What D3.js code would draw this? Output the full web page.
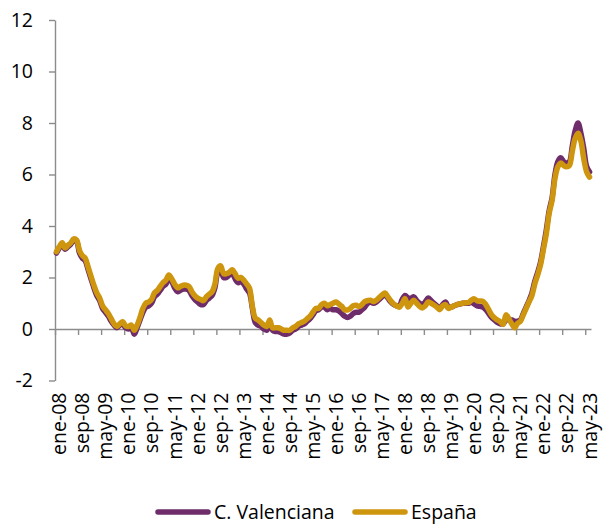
<!DOCTYPE html>
<html><head><meta charset="utf-8">
<script src="https://cdn.jsdelivr.net/npm/d3@7/dist/d3.min.js"></script>
<style>
body{margin:0;background:#fff}
text{font-family:"Open Sans",sans-serif;fill:#000}
</style>
</head><body>
<svg id="c" width="605" height="524"></svg>
<script>
const meses = ["ene","feb","mar","abr","may","jun","jul","ago","sep","oct","nov","dic"];
const categorias = d3.range(186).map(i => meses[i % 12] + "-" + String(8 + Math.floor(i / 12)).padStart(2, "0"));
const etiquetasX = ["ene-08","sep-08","may-09","ene-10","sep-10","may-11","ene-12","sep-12","may-13","ene-14","sep-14","may-15","ene-16","sep-16","may-17","ene-18","sep-18","may-19","ene-20","sep-20","may-21","ene-22","sep-22","may-23"];
const valoresY = [-2,0,2,4,6,8,10,12];

const cValenciana = [
 2.95,3.15,3.3,3.1,3.2,3.3,3.45,3.4,2.95,2.75,2.65,2.3,
 1.95,1.6,1.3,1.1,0.8,0.65,0.5,0.3,0.15,0.05,0.15,0.2,
 0.05,0.0,0.05,-0.2,0.05,0.35,0.65,0.85,0.9,1.0,1.25,1.35,
 1.5,1.65,1.75,1.95,1.85,1.6,1.45,1.5,1.55,1.55,1.5,1.3,
 1.15,1.05,0.95,0.95,1.1,1.2,1.3,1.6,2.2,2.3,2.0,2.0,
 2.1,2.15,1.95,1.8,1.85,1.75,1.55,1.4,0.8,0.25,0.15,0.1,
 0.0,-0.05,0.2,-0.05,-0.1,-0.1,-0.15,-0.2,-0.2,-0.15,-0.05,0.0,
 0.1,0.15,0.2,0.3,0.4,0.55,0.7,0.75,0.85,0.85,0.75,0.8,
 0.75,0.75,0.7,0.6,0.5,0.45,0.5,0.6,0.65,0.65,0.75,0.85,
 1.0,1.05,1.0,1.05,1.15,1.25,1.35,1.2,1.05,0.95,0.9,0.9,
 1.15,1.3,1.2,1.2,1.25,1.1,1.0,0.95,1.05,1.2,1.1,1.0,
 0.9,0.8,0.95,1.05,0.85,0.85,0.9,0.95,0.97,1.0,1.0,1.0,
 1.05,0.97,0.9,0.88,0.85,0.75,0.6,0.45,0.35,0.25,0.2,0.2,
 0.35,0.35,0.35,0.3,0.3,0.35,0.6,0.85,1.1,1.4,1.85,2.2,
 2.6,3.2,3.85,4.6,5.1,6.0,6.5,6.65,6.5,6.45,6.5,7.1,
 7.7,8.0,7.6,7.0,6.3,6.1
];
const espana = [
 3.0,3.2,3.35,3.15,3.25,3.35,3.5,3.45,3.05,2.85,2.75,2.4,
 2.05,1.7,1.4,1.2,0.9,0.75,0.6,0.4,0.2,0.1,0.2,0.28,
 0.12,0.1,0.15,-0.05,0.15,0.45,0.8,1.0,1.05,1.15,1.4,1.5,
 1.65,1.8,1.9,2.1,1.95,1.75,1.6,1.65,1.7,1.7,1.65,1.45,
 1.3,1.2,1.15,1.1,1.25,1.35,1.45,1.75,2.35,2.45,2.15,2.15,
 2.2,2.3,2.15,1.97,2.0,1.9,1.75,1.58,0.87,0.42,0.35,0.25,
 0.15,0.1,0.35,0.05,0.05,0.05,0.0,-0.05,-0.05,-0.05,0.05,0.1,
 0.2,0.25,0.3,0.4,0.5,0.65,0.8,0.8,0.95,1.0,0.9,0.95,
 1.0,1.05,0.97,0.88,0.75,0.74,0.8,0.9,0.92,0.87,0.95,1.06,
 1.1,1.12,1.06,1.12,1.22,1.32,1.4,1.25,1.1,0.97,0.9,0.85,
 1.0,1.18,0.85,1.0,1.12,1.0,0.88,0.82,0.9,1.05,1.0,0.93,
 0.85,0.75,0.9,0.95,0.8,0.85,0.9,0.95,0.98,1.0,1.02,1.03,
 1.12,1.17,1.09,1.09,1.07,0.95,0.75,0.55,0.43,0.35,0.28,0.18,
 0.55,0.4,0.2,0.05,0.22,0.3,0.55,0.8,1.05,1.3,1.75,2.1,
 2.5,3.1,3.7,4.5,5.0,5.85,6.3,6.45,6.35,6.3,6.35,6.9,
 7.4,7.6,7.3,6.6,6.1,5.9
];

const series = [
  {nombre: "C. Valenciana", valores: cValenciana, color: "#6E2C6B"},
  {nombre: "España", valores: espana, color: "#CE950F"}
];

const svg = d3.select("#c");
const mLeft = 55, mRight = 591, mTop = 20, mBottom = 380.5;
const axisColor = "#8C8C8C";

const x = d3.scaleBand().domain(categorias).range([mLeft, mRight]);
const xb = d3.scaleLinear().domain([0, categorias.length]).range([mLeft, mRight]);
const y = d3.scaleLinear().domain([-2, 12]).range([mBottom, mTop]);

// Y axis
const gy = svg.append("g").attr("transform", `translate(${mLeft},0)`)
  .call(d3.axisLeft(y).tickValues(valoresY).tickFormat(d => String(d)).tickSize(6).tickSizeOuter(0).tickPadding(16));
gy.selectAll("path,line").attr("stroke", axisColor).attr("stroke-width", 1.4);
gy.selectAll("text").style("font-size", "19.5px").style("font-family", "'Open Sans',sans-serif").attr("fill", "#000");

// X axis at y=0
const gx = svg.append("g").attr("transform", `translate(0,${y(0)})`)
  .call(d3.axisBottom(xb).tickValues(d3.range(0, categorias.length, 8)).tickSize(6).tickSizeOuter(0).tickFormat(""));
gx.selectAll("path,line").attr("stroke", axisColor).attr("stroke-width", 1.4);

// X labels at bottom
svg.append("g").selectAll("text").data(etiquetasX).join("text")
  .attr("transform", d => `translate(${x(d) + x.bandwidth() / 2 + 3},${mBottom + 12}) rotate(-90)`)
  .attr("text-anchor", "end")
  .attr("dy", "0.35em")
  .style("font-size", "19.5px")
  .text(d => d);

// Lines
const line = d3.line()
  .x((d, i) => x(categorias[i]) + x.bandwidth() / 2)
  .y(d => y(d))
  .curve(d3.curveCatmullRom.alpha(0.5));

svg.append("g").selectAll("path").data(series).join("path")
  .attr("d", d => line(d.valores))
  .attr("fill", "none")
  .attr("stroke", d => d.color)
  .attr("stroke-width", 5.5)
  .attr("stroke-linejoin", "round")
  .attr("stroke-linecap", "round");

// Legend
const legX = [158, 355];
const leg = svg.append("g").selectAll("g").data(series).join("g")
  .attr("transform", (d, i) => `translate(${legX[i]},512)`);
leg.append("line").attr("x1", 0).attr("x2", 50).attr("y1", 0).attr("y2", 0)
  .attr("stroke", d => d.color).attr("stroke-width", 5.5).attr("stroke-linecap", "round");
leg.append("text").attr("x", 56).attr("dy", "0.35em").style("font-size", "19.5px").text(d => d.nombre);
</script>
</body></html>
